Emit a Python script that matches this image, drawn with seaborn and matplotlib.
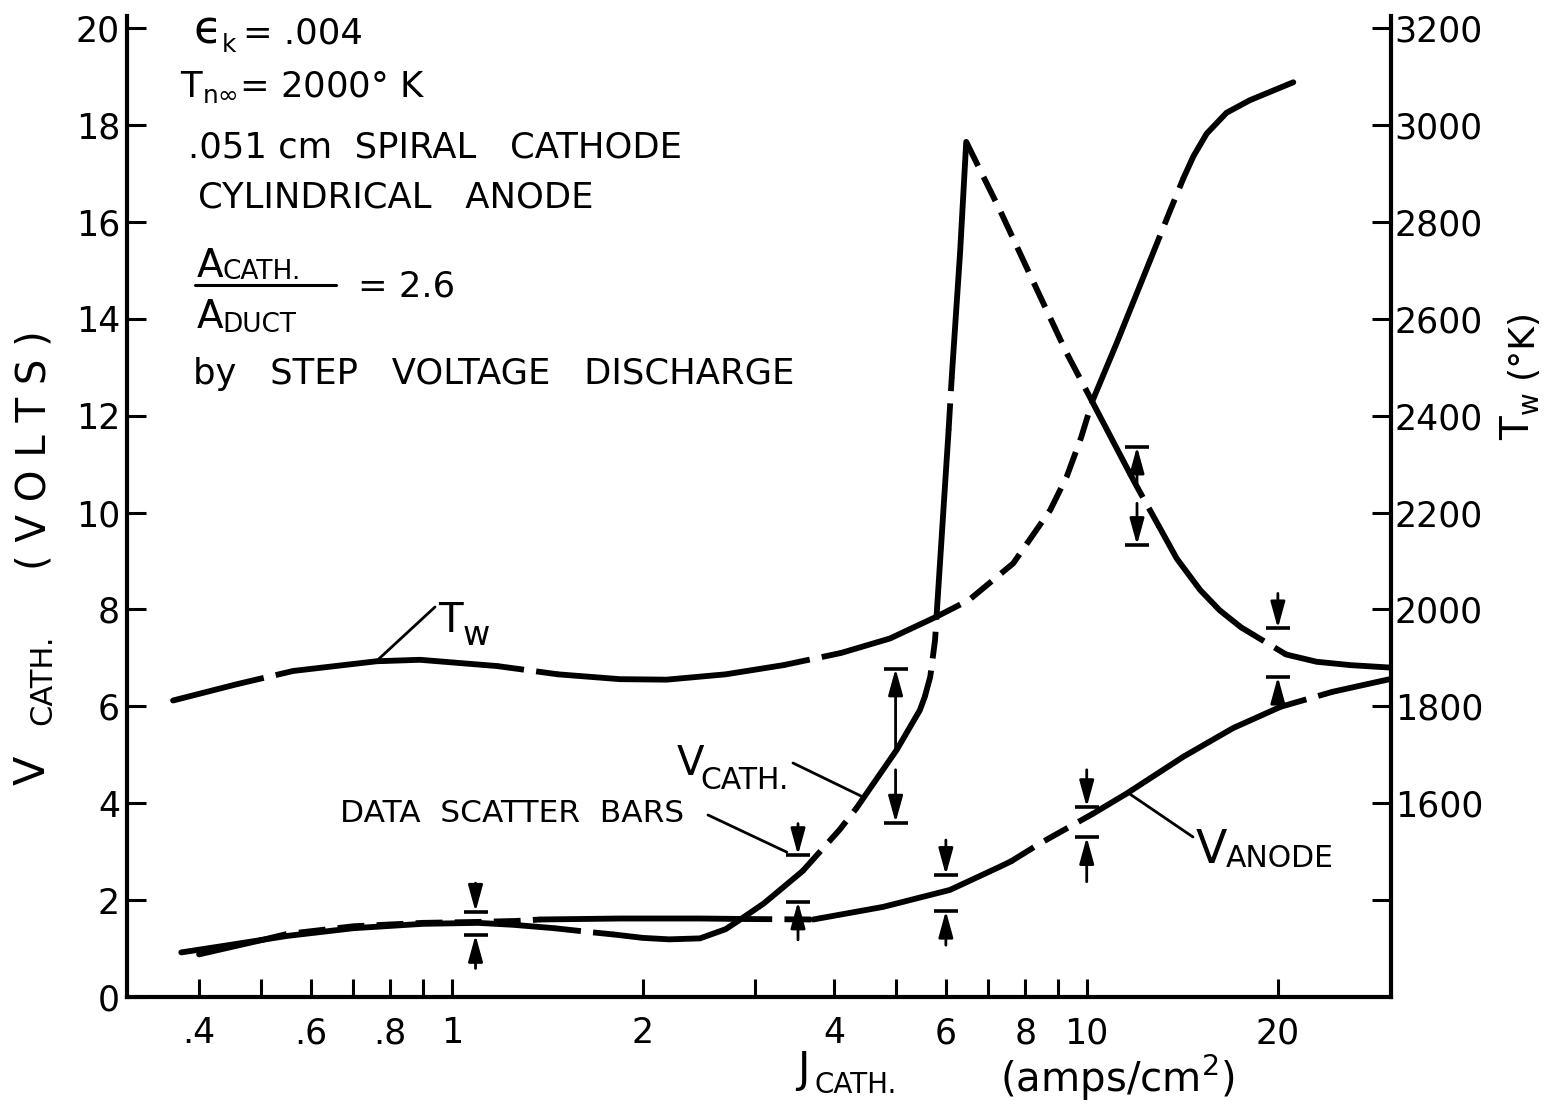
import pandas as pd
import matplotlib
matplotlib.use("Agg")
import matplotlib.pyplot as plt
from matplotlib.lines import Line2D
from matplotlib.ticker import FixedLocator, FixedFormatter, NullLocator
import seaborn as sns

# Cathode voltage (volts) against cathode current density (amps/cm^2)
vcath_j = [0.375, 0.45, 0.55, 0.70, 0.90, 1.10, 1.25, 1.45, 1.65, 1.80, 2.00, 2.20,
           2.46, 2.70, 2.84, 3.10, 3.57, 4.08, 4.34, 4.50, 5.02, 5.46, 5.56, 5.67,
           5.77, 5.80, 6.06, 6.13, 6.32, 6.46, 7.30, 8.24, 9.30, 10.2, 11.7, 12.0,
           13.0, 13.86, 15.09, 16.2, 17.5, 20.6, 23.0, 26.0, 30.0]
vcath_v = [0.92, 1.08, 1.26, 1.42, 1.51, 1.53, 1.49, 1.42, 1.34, 1.29, 1.22, 1.19,
           1.21, 1.40, 1.59, 1.93, 2.60, 3.45, 3.90, 4.20, 5.10, 5.92, 6.20, 6.61,
           7.37, 7.85, 11.70, 12.80, 15.40, 17.65, 16.24, 14.76, 13.29, 12.29, 10.80, 10.53,
           9.71, 9.05, 8.40, 7.98, 7.63, 7.07, 6.92, 6.85, 6.80]

# Anode voltage (volts)
vanode_j = [0.40, 0.50, 0.55, 0.70, 0.90, 1.10, 1.265, 1.38, 1.84, 2.46, 2.90, 3.71,
            4.78, 6.09, 7.30, 7.60, 8.44, 10.25, 11.56, 14.2, 17.0, 20.2, 24.4, 30.0]
vanode_v = [0.88, 1.17, 1.30, 1.46, 1.53, 1.55, 1.57, 1.60, 1.62, 1.62, 1.61, 1.60,
            1.86, 2.21, 2.69, 2.80, 3.17, 3.79, 4.20, 4.96, 5.55, 5.99, 6.30, 6.56]

# Cathode wall temperature (deg K, right-hand scale)
tw_j = [0.364, 0.46, 0.563, 0.762, 0.891, 1.18, 1.47, 1.84, 2.18, 2.70, 3.33, 4.10,
        4.90, 5.80, 6.52, 7.66, 8.76, 9.30, 9.80, 10.2, 11.15, 12.58, 13.52, 14.2,
        14.72, 15.45, 16.6, 18.07, 21.15]
tw_k = [1812, 1846, 1873, 1893, 1896, 1883, 1866, 1856, 1855, 1866, 1885, 1910,
        1940, 1985, 2019, 2095, 2205, 2274, 2355, 2429, 2550, 2720, 2822, 2890,
        2935, 2982, 3025, 3051, 3088]

# Current densities where each curve switches between solid and dashed runs
vcath_runs = [0.375, 1.45, 1.8, 3.57, 4.34, 5.56, 5.8, 6.06, 6.13, 6.46, 10.2, 11.7,
              13.0, 17.5, 20.6, 30.0]
vanode_runs = [0.40, 0.50, 1.38, 2.90, 3.71, 7.60, 10.25, 20.2, 24.4, 30.0]
tw_runs = [0.364, 0.46, 0.563, 1.18, 1.47, 3.33, 4.10, 5.80, 10.2, 12.58, 14.2, 21.15]

# Data scatter bars: bar level and the start of the arrow that points at it
scatter_j = [1.09, 1.09, 3.51, 3.51, 5.0, 5.0, 6.0, 6.0, 10.0, 10.0, 12.0, 12.0, 20.0, 20.0]
scatter_bar = [1.76, 1.28, 2.93, 1.97, 6.78, 3.60, 2.52, 1.78, 3.92, 3.30, 11.36, 9.33, 7.61, 6.61]
scatter_tail = [2.35, 0.59, 3.58, 1.18, 5.10, 4.69, 3.24, 1.07, 4.69, 2.38, 10.60, 10.19, 8.33, 6.09]

x_ticks = [0.4, 0.5, 0.6, 0.7, 0.8, 0.9, 1, 2, 3, 4, 5, 6, 7, 8, 9, 10, 20]
x_labels = ['.4', '', '.6', '', '.8', '', '1', '2', '', '4', '', '6', '', '8', '', '10', '20']
v_ticks = list(range(0, 21, 2))
t_ticks = list(range(1400, 3201, 200))
t_labels = [''] + [str(t) for t in range(1600, 3201, 200)]

sns.set_theme(style="ticks", rc={
    "axes.edgecolor": "black", "text.color": "black", "xtick.color": "black",
    "ytick.color": "black", "axes.labelcolor": "black",
})
plt.rcParams["font.family"] = ["DejaVu Sans"]
plt.rcParams["mathtext.default"] = "regular"

W, H = 1554, 1110
fig = plt.figure(figsize=(W / 100, H / 100), dpi=100, facecolor="white")
ax = fig.add_axes([127 / W, 1 - 997 / H, (1390.6 - 127) / W, (997 - 15.9) / H])
ax.set_xscale("log")
ax.set_xlim(0.308, 30.1)
ax.set_ylim(0, 20.25)
ax2 = ax.twinx()
ax2.set_ylim(1200, 1200 + 100 * 20.25)

LW = 4.2
DASH = (0, (4.6, 2.1))


def draw_runs(axis, j, y, runs):
    df = pd.DataFrame({"J": j, "Y": y})
    for i, (a, b) in enumerate(zip(runs[:-1], runs[1:])):
        seg = df[(df["J"] >= a * 0.9999) & (df["J"] <= b * 1.0001)]
        style = "-" if i % 2 == 0 else DASH
        sns.lineplot(data=seg, x="J", y="Y", ax=axis, color="black", linewidth=LW,
                     linestyle=style, estimator=None, sort=False, legend=False)


draw_runs(ax, vcath_j, vcath_v, vcath_runs)
draw_runs(ax, vanode_j, vanode_v, vanode_runs)
draw_runs(ax2, tw_j, tw_k, tw_runs)

# scatter bars: a short bar with an arrow pointing at it
ax.plot(scatter_j, scatter_bar, ls="none", marker="_", markersize=17,
        markeredgewidth=2.6, color="black")
for j, b, t in zip(scatter_j, scatter_bar, scatter_tail):
    ax.annotate("", xy=(j, b), xytext=(j, t),
                arrowprops=dict(arrowstyle="-|>,head_length=0.8,head_width=0.22",
                                color="black", lw=2.0, shrinkA=0, shrinkB=0,
                                mutation_scale=20))

for a in (ax, ax2):
    a.set_xlabel("")
    a.set_ylabel("")
    a.spines["top"].set_visible(False)
ax.spines["right"].set_visible(False)
for s in ("left", "bottom"):
    ax2.spines[s].set_visible(False)
for s in ("left", "bottom"):
    ax.spines[s].set_linewidth(3)
ax2.spines["right"].set_linewidth(3)

ax.xaxis.set_major_locator(FixedLocator(x_ticks))
ax.xaxis.set_major_formatter(FixedFormatter(x_labels))
ax.xaxis.set_minor_locator(NullLocator())
ax.yaxis.set_major_locator(FixedLocator(v_ticks))
ax.yaxis.set_minor_locator(NullLocator())
ax2.yaxis.set_major_locator(FixedLocator(t_ticks))
ax2.yaxis.set_major_formatter(FixedFormatter(t_labels))
ax2.yaxis.set_minor_locator(NullLocator())

ax.tick_params(axis="x", which="major", direction="in", length=13, width=2.2,
               labelsize=25, pad=14, bottom=True, top=False)
ax.tick_params(axis="y", which="major", direction="in", length=14, width=2.2,
               labelsize=25, pad=5, left=True, right=False)
ax2.tick_params(axis="y", which="major", direction="in", length=14, width=2.2,
                labelsize=25, pad=3, right=True, left=False)


def fp(x, y):
    return (x / W, 1 - y / H)


# parameter block, upper left
info = dict(fontsize=25.5, ha="left", va="baseline")
fig.text(*fp(193, 44), "ϵ", fontsize=33, ha="left", va="baseline")
fig.text(*fp(222, 52), "k", fontsize=18, ha="left", va="baseline")
fig.text(*fp(243, 44), "= .004", **info)
fig.text(*fp(180, 97), r"$T_{n\infty}$= 2000° K", **info)
fig.text(*fp(188, 157), ".051 cm  SPIRAL   CATHODE", **info)
fig.text(*fp(198, 208), "CYLINDRICAL   ANODE", **info)
fig.text(*fp(197, 277), "A", fontsize=28, ha="left", va="baseline")
fig.text(*fp(222, 279), "CATH.", fontsize=19, ha="left", va="baseline")
fig.add_artist(Line2D([195 / W, 336 / W], [1 - 285 / H] * 2, color="black", lw=2.2))
fig.text(*fp(197, 328), "A", fontsize=28, ha="left", va="baseline")
fig.text(*fp(222, 332), "DUCT", fontsize=19, ha="left", va="baseline")
fig.text(*fp(358, 297), "= 2.6", **info)
fig.text(*fp(193, 384), "by   STEP   VOLTAGE   DISCHARGE", **info)

# axis titles
rot = dict(rotation=90, ha="center", va="center")
fig.text(*fp(33, 770), "V", fontsize=31, **rot)
fig.text(*fp(43, 680), "CATH.", fontsize=22, **rot)
fig.text(*fp(35, 450), "( V O L T S )", fontsize=29, **rot)
fig.text(*fp(1518, 428), "T", fontsize=28, **rot)
fig.text(*fp(1530, 403), "w", fontsize=20, **rot)
fig.text(*fp(1522, 343), "(°K)", fontsize=26, **rot)
fig.text(*fp(797, 1082), "J", fontsize=30, ha="left", va="baseline")
fig.text(*fp(815, 1093), "CATH.", fontsize=20, ha="left", va="baseline")
fig.text(*fp(1000, 1092), r"(amps/cm$^2$)", fontsize=29, ha="left", va="baseline")

# curve labels with leader lines
fig.text(*fp(438, 632), "T", fontsize=29, ha="left", va="baseline")
fig.text(*fp(463, 645), "w", fontsize=24, ha="left", va="baseline")
fig.text(*fp(677, 775), "V", fontsize=29, ha="left", va="baseline")
fig.text(*fp(700, 789), "CATH.", fontsize=21.5, ha="left", va="baseline")
fig.text(*fp(340, 822), "DATA  SCATTER  BARS", fontsize=22.5, ha="left", va="baseline")
fig.text(*fp(1196, 863), "V", fontsize=33, ha="left", va="baseline")
fig.text(*fp(1226, 867), "ANODE", fontsize=21.5, ha="left", va="baseline")

leader = dict(arrowstyle="-", color="black", lw=2.0, shrinkA=0, shrinkB=0)
ax2.annotate("", xy=(0.765, 1896), xytext=fp(435, 607), textcoords="figure fraction",
             arrowprops=leader)
ax.annotate("", xy=(4.44, 4.13), xytext=fp(793, 763), textcoords="figure fraction",
            arrowprops=leader)
ax.annotate("", xy=(3.37, 2.99), xytext=fp(708, 815), textcoords="figure fraction",
            arrowprops=leader)
ax.annotate("", xy=(11.63, 4.21), xytext=fp(1193, 837), textcoords="figure fraction",
            arrowprops=leader)

fig.savefig("out.png", dpi=100, facecolor="white")
